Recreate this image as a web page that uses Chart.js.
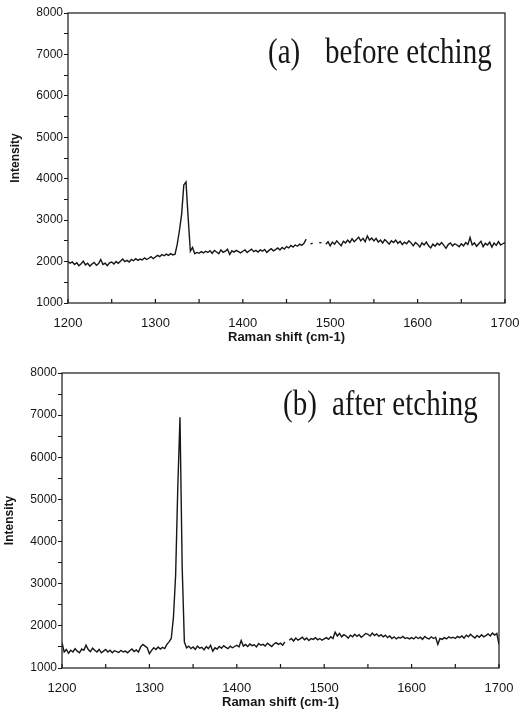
<!DOCTYPE html>
<html lang="en">
<head>
<meta charset="UTF-8">
<title>Raman spectra before and after etching</title>
<script src="https://cdn.jsdelivr.net/npm/chart.js"></script>
<style>
    body { margin: 0; background: #fff; }
    canvas { display: block; }
</style>
</head>
<body>
<canvas id="beforeChart" width="526" height="345"></canvas>
<canvas id="afterChart" width="526" height="369"></canvas>
<script>
    // Raman shift grid: 1200 to 1700 cm-1, one reading every 2.5 cm-1
    const shift = [];
    for (let s = 1200; s <= 1700; s += 2.5) shift.push(s);

    // (a) before etching, 20 readings per row (50 cm-1)
    const beforeIntensity = [
        2000, 1960, 1990, 1930, 1970, 1900, 1950, 2010, 1920, 1960, 1890, 1940, 1980, 1910, 1950, 2050, 1930, 1960, 1900, 1970,
        1990, 1940, 2000, 1960, 2010, 2060, 2000, 2030, 1990, 2050, 2020, 2070, 2030, 2060, 2040, 2090, 2050, 2080, 2120, 2070,
        2110, 2150, 2120, 2170, 2140, 2180, 2150, 2190, 2160, 2180, 2420, 2750, 3140, 3850, 3920, 3050, 2250, 2340, 2190, 2220,
        2200, 2240, 2210, 2250, 2220, 2260, 2200, 2270, 2230, 2190, 2280, 2220, 2250, 2300, 2170, 2260, 2230, 2270, 2240, 2210,
        2250, 2280, 2220, 2260, 2300, 2240, 2270, 2230, 2280, 2250, 2290, 2220, 2270, 2310, 2260, 2290, 2330, 2280, 2340, 2300,
        2360, 2330, 2390, 2350, 2400, 2370, 2420, 2390, 2440, 2540, null, 2430, 2440, null, null, 2460, 2450, null, 2420, 2480,
        2380, 2470, 2420, 2500, 2440, 2380, 2490, 2450, 2520, 2460, 2550, 2480, 2530, 2590, 2500, 2560, 2480, 2620, 2520, 2570,
        2500, 2560, 2470, 2520, 2450, 2530, 2480, 2420, 2500, 2460, 2520, 2440, 2490, 2410, 2470, 2430, 2500, 2450, 2380, 2460,
        2420, 2350, 2450, 2400, 2470, 2380, 2330, 2420, 2370, 2440, 2400, 2460, 2390, 2320, 2410, 2450, 2380, 2430, 2400, 2360,
        2430, 2380, 2460, 2410, 2580, 2400, 2450, 2370, 2430, 2490, 2360, 2440, 2400, 2470, 2350, 2450, 2390, 2480, 2400, 2430,
        2460
    ];

    // (b) after etching
    const afterIntensity = [
        1600, 1380, 1440, 1350, 1420, 1380, 1460, 1400, 1360, 1450, 1420, 1540, 1440, 1390, 1470, 1420, 1380, 1440, 1360, 1400,
        1440, 1380, 1420, 1360, 1410, 1390, 1370, 1420, 1380, 1400, 1360, 1410, 1450, 1390, 1430, 1380, 1500, 1560, 1520, 1480,
        1340, 1420, 1480, 1440, 1500, 1450, 1490, 1460, 1560, 1620, 1700, 2200, 3200, 5300, 6950, 3400, 1620, 1480, 1520, 1460,
        1500, 1440, 1520, 1470, 1490, 1430, 1510, 1460, 1540, 1400, 1480, 1450, 1510, 1470, 1530, 1490, 1460, 1520, 1480, 1510,
        1540, 1500, 1650, 1520, 1560, 1510, 1570, 1530, 1550, 1500, 1580, 1540, 1560, 1520, 1590, 1550, 1510, 1570, 1600, 1560,
        1590, 1540, 1620, null, 1660, 1700, 1640, 1710, 1660, 1690, 1730, 1670, 1710, 1650, 1700, 1680, 1720, 1670, 1700, 1660,
        1690, 1720, 1680, 1740, 1700, 1850, 1760, 1820, 1740, 1790, 1760, 1710, 1780, 1740, 1800, 1750, 1790, 1730, 1770, 1820,
        1800, 1760, 1830, 1770, 1810, 1750, 1790, 1740, 1780, 1720, 1760, 1700, 1740, 1690, 1730, 1710, 1750, 1700, 1720, 1690,
        1720, 1690, 1740, 1700, 1730, 1680, 1750, 1710, 1690, 1740, 1700, 1730, 1560, 1700, 1680, 1720, 1690, 1740, 1710, 1730,
        1700, 1750, 1720, 1760, 1710, 1780, 1740, 1800, 1750, 1710, 1770, 1730, 1790, 1740, 1770, 1810, 1760, 1830, 1780, 1820,
        1560
    ];

    const xLabels = [1200, 1300, 1400, 1500, 1600, 1700];
    const yLabels = [1000, 2000, 3000, 4000, 5000, 6000, 7000, 8000];

    const ink = '#161616';

    // box around the plot, inward x ticks and the panel caption
    const framePlugin = {
        id: 'frame',
        afterDraw(chart, args, opts) {
            const { ctx, chartArea: a, scales: { x } } = chart;
            ctx.save();
            ctx.strokeStyle = ink;
            ctx.lineWidth = 1.2;
            ctx.strokeRect(a.left, a.top, a.right - a.left, a.bottom - a.top);
            x.ticks.forEach(t => {
                const px = x.getPixelForValue(t.value);
                ctx.beginPath();
                ctx.moveTo(px, a.bottom);
                ctx.lineTo(px, a.bottom - 4);
                ctx.stroke();
            });
            ctx.fillStyle = ink;
            ctx.font = '29px "Liberation Serif", "DejaVu Serif", serif';
            ctx.textAlign = 'left';
            ctx.textBaseline = 'alphabetic';
            ctx.translate(0, opts.y);
            ctx.scale(1, 1.2);
            ctx.fillText(opts.tag, opts.tagX, 0);
            ctx.fillText(opts.text, opts.textX, 0);
            ctx.restore();
        }
    };

    function drawSpectrum(id, values, cfg) {
        const points = shift.map((s, i) => ({ x: s, y: values[i] }));
        return new Chart(document.getElementById(id), {
            type: 'line',
            data: {
                datasets: [{
                    data: points,
                    borderColor: ink,
                    borderWidth: 1.4,
                    pointRadius: 0,
                    tension: 0,
                    spanGaps: false
                }]
            },
            plugins: [framePlugin],
            options: {
                responsive: false,
                animation: false,
                devicePixelRatio: 1,
                layout: { padding: { top: cfg.top, right: cfg.right, left: 0, bottom: 0 } },
                plugins: {
                    legend: { display: false },
                    tooltip: { enabled: false },
                    frame: cfg.caption
                },
                scales: {
                    x: {
                        type: 'linear',
                        min: 1200,
                        max: 1700,
                        grid: { display: false },
                        border: { display: false },
                        ticks: {
                            stepSize: 50,
                            autoSkip: false,
                            maxRotation: 0,
                            padding: 5,
                            color: ink,
                            font: { family: '"Liberation Sans", Arial, sans-serif', size: 13 },
                            callback: v => xLabels.includes(v) ? String(v) : ''
                        },
                        title: {
                            display: true,
                            text: 'Raman shift (cm-1)',
                            color: ink,
                            font: { family: '"Liberation Sans", Arial, sans-serif', size: 13, weight: 'bold' },
                            padding: { top: 0, bottom: cfg.xTitlePad }
                        },
                        afterFit: s => { s.height = cfg.xHeight; }
                    },
                    y: {
                        min: 1000,
                        max: 8000,
                        grid: { drawOnChartArea: false, tickLength: 4, color: ink, lineWidth: 1 },
                        border: { display: false },
                        ticks: {
                            stepSize: 500,
                            autoSkip: false,
                            padding: 1,
                            color: ink,
                            font: { family: '"Liberation Sans", Arial, sans-serif', size: 12 },
                            callback: v => yLabels.includes(v) ? String(v) : ''
                        },
                        title: {
                            display: true,
                            text: 'Intensity',
                            color: ink,
                            font: { family: '"Liberation Sans", Arial, sans-serif', size: 12, weight: 'bold' },
                            padding: { top: cfg.yTitlePad, bottom: 0 }
                        },
                        afterFit: s => { s.width = cfg.yWidth; }
                    }
                }
            }
        });
    }

    drawSpectrum('beforeChart', beforeIntensity, {
        top: 13, right: 21, yWidth: 68, xHeight: 42, xTitlePad: 0, yTitlePad: 8,
        caption: { tag: '(a)', tagX: 268, text: 'before etching', textX: 325, y: 63 }
    });

    drawSpectrum('afterChart', afterIntensity, {
        top: 28, right: 27, yWidth: 62, xHeight: 46, xTitlePad: 4, yTitlePad: 2,
        caption: { tag: '(b)', tagX: 283, text: 'after etching', textX: 332, y: 70 }
    });
</script>
</body>
</html>
